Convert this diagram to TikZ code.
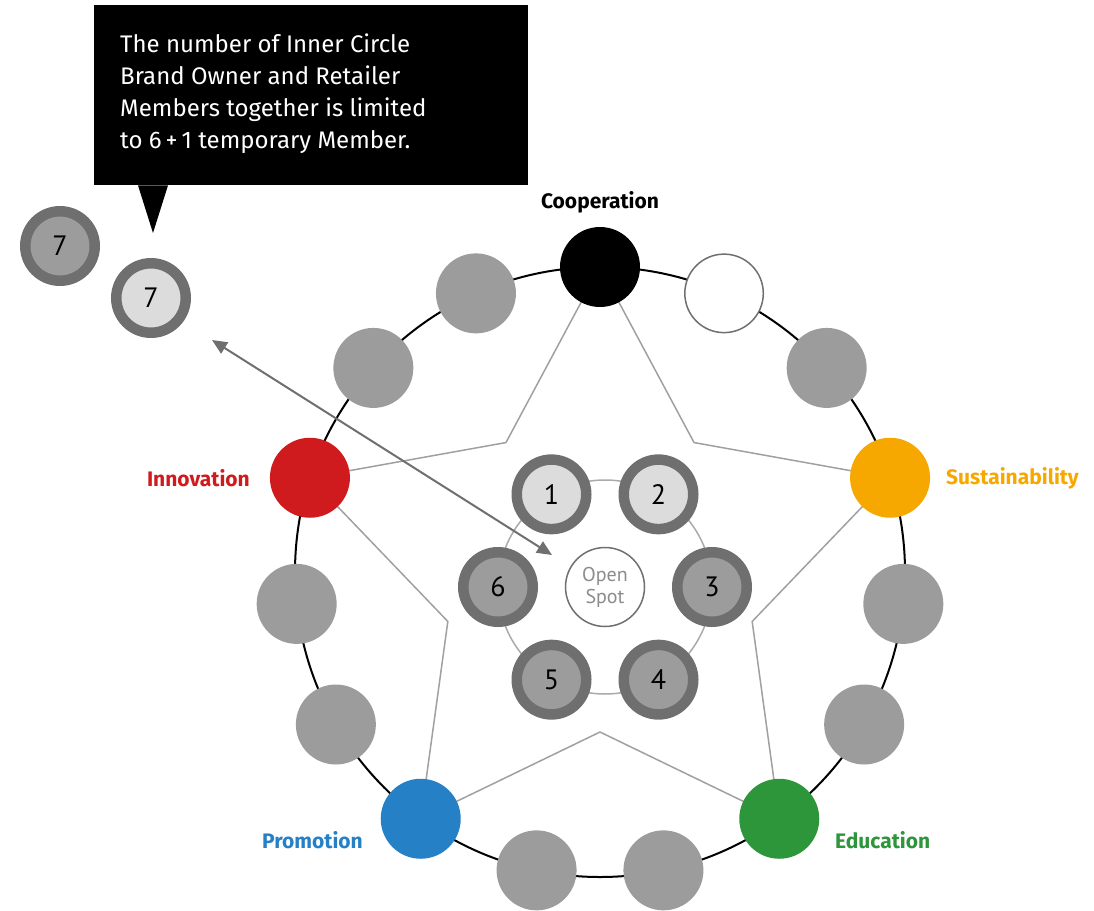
\documentclass[tikz,border=0pt]{standalone}
\usepackage{fontspec}
\setmainfont{Fira Sans}
\newfontfamily\ptsans{PT Sans}
\usetikzlibrary{arrows.meta}
\definecolor{dgray}{HTML}{6F6F6F}
\definecolor{mgray}{HTML}{9C9C9C}
\definecolor{lgray}{HTML}{DCDCDC}
\definecolor{ringgray}{HTML}{AAAAAA}
\definecolor{stargray}{HTML}{A0A0A0}
\definecolor{innovred}{HTML}{CF1B1D}
\definecolor{sustorange}{HTML}{F6A800}
\definecolor{promoblue}{HTML}{2680C6}
\definecolor{edugreen}{HTML}{2E963A}
\pgfdeclarelayer{bg}
\pgfsetlayers{bg,main}
\tikzset{
  member/.style={circle, minimum size=80pt, inner sep=0pt, fill=#1},
  emptyspot/.style={circle, minimum size=78.5pt, inner sep=0pt, fill=white, draw=dgray, line width=1.5pt},
  numbered/.style={circle, minimum size=69.5pt, inner sep=0pt, draw=dgray, line width=10.5pt, fill=#1,
    font=\ptsans\fontsize{28}{28}\selectfont, text=black},
  catlabel/.style={font=\fontsize{21}{21}\selectfont\bfseries, inner sep=0pt},
  starline/.style={draw=stargray, line width=1.5pt, line join=miter},
  arrowline/.style={draw=dgray, line width=2pt, {Triangle[length=15pt,width=13pt]}-{Triangle[length=15pt,width=13pt]}},
}
\begin{document}
\begin{tikzpicture}[x=1pt,y=-1pt]
\useasboundingbox (0,0) rectangle (1094,910);
% big ring
\node[circle, draw=black, line width=2pt, minimum size=610pt, inner sep=0pt] (ring) at (600,572) {};
% outer members
\foreach \a/\nm/\col in {42/g1/mgray,-6/g2/mgray,-30/g3/mgray,-78/g4/mgray,-102/g5/mgray,-150/g6/mgray,-174/g7/mgray,138/g8/mgray,114/g9/mgray,90/coop/black,18/sust/sustorange,-54/edu/edugreen,-126/promo/promoblue,162/innov/innovred}
  \node[member=\col] (\nm) at ({600+305*cos(\a)},{572-305*sin(\a)}) {};
\node[emptyspot] (free) at ({600+305*cos(66)},{572-305*sin(66)}) {};
% star inner vertices
\foreach \a/\nm in {54/s1,-18/s2,-90/s3,-162/s4,126/s5}
  \coordinate (\nm) at ({600+160*cos(\a)},{572-160*sin(\a)});
\begin{pgfonlayer}{bg}
\draw[starline] (coop.center) -- (s1) -- (sust.center) -- (s2) -- (edu.center) -- (s3) -- (promo.center) -- (s4) -- (innov.center) -- (s5) -- cycle;
\end{pgfonlayer}
% labels
\node[catlabel, text=black] (lcoop) at (600,202) {Cooperation};
\node[catlabel, text=innovred, anchor=east] (linnov) at (250,478) {Innovation};
\node[catlabel, text=sustorange, anchor=west] (lsust) at (946,478) {Sustainability};
\node[catlabel, text=promoblue, anchor=east] (lpromo) at (363,840) {Promotion};
\node[catlabel, text=edugreen, anchor=west] (ledu) at (835,840) {Education};
% inner circle
\node[circle, draw=ringgray, line width=1.5pt, minimum size=214pt, inner sep=0pt] (inner) at (605,587) {};
\node[circle, draw=dgray, line width=1.5pt, minimum size=79pt, inner sep=0pt, fill=white, align=center,
  text=dgray!80, font=\ptsans\fontsize{20}{22}\selectfont] (open) at (605,587) {Open\\Spot};
\foreach \a/\n/\col in {120/1/lgray,60/2/lgray,0/3/mgray,-60/4/mgray,-120/5/mgray,180/6/mgray}
  \node[numbered=\col] (m\n) at ({605+107*cos(\a)},{587-107*sin(\a)}) {\n};
% temporary members
\node[numbered=mgray] (t7a) at (60,246) {7};
\node[numbered=lgray] (t7b) at (151,298) {7};
% callout
\node[fill=black, minimum width=434pt, minimum height=180pt, inner sep=0pt, anchor=north west] (callout) at (94,5) {};
\fill[black] ([xshift=44pt]callout.south west) -- ([xshift=74pt]callout.south west) -- (153,233) -- cycle;
\node[anchor=north west, inner sep=0pt, text=white, align=left, font=\fontsize{24}{32}\selectfont] (ctext) at (120,34)
  {The number of Inner Circle\\Brand Owner and Retailer\\Members together is limited\\to 6\,+\,1 temporary Member.};
% arrow
\coordinate (a1) at (212,340);
\coordinate (a2) at (552,555);
\draw[arrowline] (a1) -- (a2);
\end{tikzpicture}
\end{document}
